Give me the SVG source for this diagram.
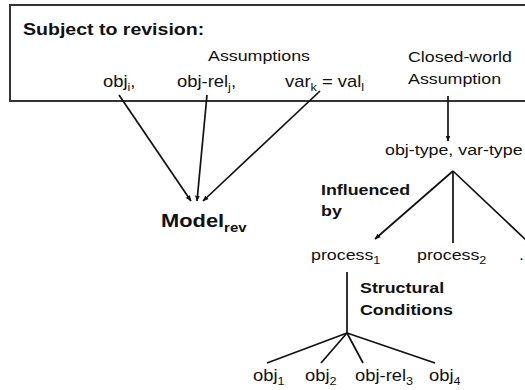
<svg xmlns="http://www.w3.org/2000/svg" width="525" height="390" viewBox="0 0 525 390">
<defs>
<style>
text{font-family:"Liberation Sans",Arial,sans-serif;fill:#111}
.r{font-size:15.5px}
.o{font-size:16px}
.b{font-weight:bold;font-size:15.5px}
.t{font-weight:bold;font-size:17px}
.m{font-weight:bold;font-size:19px}
.s{font-size:11px}
.ms{font-size:13px}
.ln{stroke:#111;stroke-width:1.7;fill:none}
.box{stroke:#333;stroke-width:2;fill:#fff}
</style>
<marker id="ah" viewBox="0 0 10 10" refX="9" refY="5" markerWidth="6" markerHeight="6" orient="auto" markerUnits="userSpaceOnUse">
<path d="M0,1 L10,5 L0,9 z" fill="#111"/>
</marker>
</defs>
<rect width="525" height="390" fill="#fff"/>
<g id="revision-box">
<rect class="box" x="10" y="5" width="530" height="96"/>
<text class="t" transform="translate(23,35) scale(1.15,1)">Subject to revision:</text>
<text class="r" transform="translate(208,61) scale(1.15,1)">Assumptions</text>
</g>
<g id="obj-i"><text class="o" transform="translate(103,87) scale(1.15,1)">obj<tspan class="s" dy="4">i</tspan><tspan dy="-4">,</tspan></text></g>
<g id="obj-rel-j"><text class="o" transform="translate(177,87) scale(1.15,1)">obj-rel<tspan class="s" dy="4">j</tspan><tspan dy="-4">,</tspan></text></g>
<g id="var-val"><text class="o" transform="translate(285,87) scale(1.15,1)">var<tspan class="s" dy="4">k</tspan><tspan dy="-4"> = val</tspan><tspan class="s" dy="4">l</tspan></text></g>
<g id="closed-world">
<text class="r" transform="translate(408,62) scale(1.15,1)">Closed-world</text>
<text class="r" transform="translate(408,84) scale(1.15,1)">Assumption</text>
</g>
<g id="model-rev"><text class="m" transform="translate(161,227) scale(1.15,1)">Model<tspan class="ms" dy="5">rev</tspan></text></g>
<g id="types"><text class="r" transform="translate(385,155) scale(1.15,1)">obj-type, var-type</text></g>
<g id="influenced-label">
<text class="b" transform="translate(321,195) scale(1.15,1)">Influenced</text>
<text class="b" transform="translate(321,216) scale(1.15,1)">by</text>
</g>
<g id="process-1"><text class="r" transform="translate(311,260) scale(1.15,1)">process<tspan class="s" dy="4">1</tspan></text></g>
<g id="process-2"><text class="r" transform="translate(417,260) scale(1.15,1)">process<tspan class="s" dy="4">2</tspan></text></g>
<g id="process-more"><text class="r" transform="translate(519,260) scale(1.15,1)">.</text></g>
<g id="structural-label">
<text class="b" transform="translate(360,293) scale(1.15,1)">Structural</text>
<text class="b" transform="translate(360,315) scale(1.15,1)">Conditions</text>
</g>
<g id="obj-1"><text class="o" transform="translate(253,381) scale(1.15,1)">obj<tspan class="s" dy="4">1</tspan></text></g>
<g id="obj-2"><text class="o" transform="translate(305,381) scale(1.15,1)">obj<tspan class="s" dy="4">2</tspan></text></g>
<g id="obj-rel-3"><text class="o" transform="translate(355,381) scale(1.15,1)">obj-rel<tspan class="s" dy="4">3</tspan></text></g>
<g id="obj-4"><text class="o" transform="translate(429,381) scale(1.15,1)">obj<tspan class="s" dy="4">4</tspan></text></g>
<g id="connectors">
<line class="ln" x1="119" y1="95" x2="191" y2="201" marker-end="url(#ah)"/>
<line class="ln" x1="207" y1="95" x2="197" y2="201" marker-end="url(#ah)"/>
<line class="ln" x1="320" y1="91" x2="203" y2="201" marker-end="url(#ah)"/>
<line class="ln" x1="448" y1="96" x2="448" y2="141" marker-end="url(#ah)"/>
<line class="ln" x1="453" y1="171" x2="375" y2="239" marker-end="url(#ah)"/>
<line class="ln" x1="453" y1="171" x2="453" y2="243"/>
<line class="ln" x1="453" y1="171" x2="527" y2="241"/>
<line class="ln" x1="347" y1="272" x2="347" y2="333"/>
<line class="ln" x1="347" y1="333" x2="267" y2="363"/>
<line class="ln" x1="347" y1="333" x2="321" y2="363"/>
<line class="ln" x1="347" y1="333" x2="363" y2="363"/>
<line class="ln" x1="347" y1="333" x2="435" y2="363"/>
</g>
</svg>
